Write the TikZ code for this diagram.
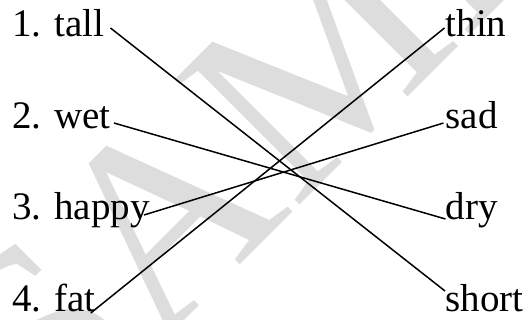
\documentclass[tikz,border=0pt]{standalone}
\usepackage{fontspec}
\setmainfont{Liberation Serif}
\newfontfamily\wordfont{Liberation Serif}
\usetikzlibrary{positioning}
\definecolor{ink}{RGB}{0,0,0}
\definecolor{wmgray}{RGB}{221,221,221}
\tikzset{
  word/.style={inner sep=0pt,anchor=base west,text=ink,
    font=\wordfont\fontsize{39}{39}\selectfont},
  wmark/.style={inner sep=0pt,anchor=base west,text=wmgray,
    font=\wordfont\fontsize{270}{270}\selectfont},
  link/.style={draw=ink,line width=1.5pt},
}

\begin{document}
\begin{tikzpicture}[x=1pt,y=-1pt]
\useasboundingbox (0,0) rectangle (530,320);

% ---- watermark ----
\node[wmark,rotate=45] (stamp) at (50,455) {SAMPLE};

% ---- left column ----
\node[word] (tall) at (12,37) {1. tall};
\node[word] (wet) at ([yshift=-92pt]tall.base west) {2. wet};
\node[word] (happy) at ([yshift=-91pt]wet.base west) {3. happy};
\node[word] (fat) at ([yshift=-92pt]happy.base west) {4. fat};

% ---- right column ----
\node[word] (thin) at (445.5,37) {thin};
\node[word] (sad) at ([yshift=-92pt]thin.base west) {sad};
\node[word] (dry) at ([yshift=-91pt]sad.base west) {dry};
\node[word] (short) at ([yshift=-92pt]dry.base west) {short};

% ---- matches ----
\draw[link] ([shift={(6,-9)}]tall.base east) -- ([shift={(-0.5,-21)}]short.base west);
\draw[link] ([shift={(3,-6)}]wet.base east) -- ([shift={(0,-1)}]dry.base west);
\draw[link] ([shift={(-6,-5)}]happy.base east) -- ([shift={(-2,-6)}]sad.base west);
\draw[link] ([shift={(-5,1)}]fat.base east) -- ([shift={(-1,-9)}]thin.base west);
\end{tikzpicture}
\end{document}
